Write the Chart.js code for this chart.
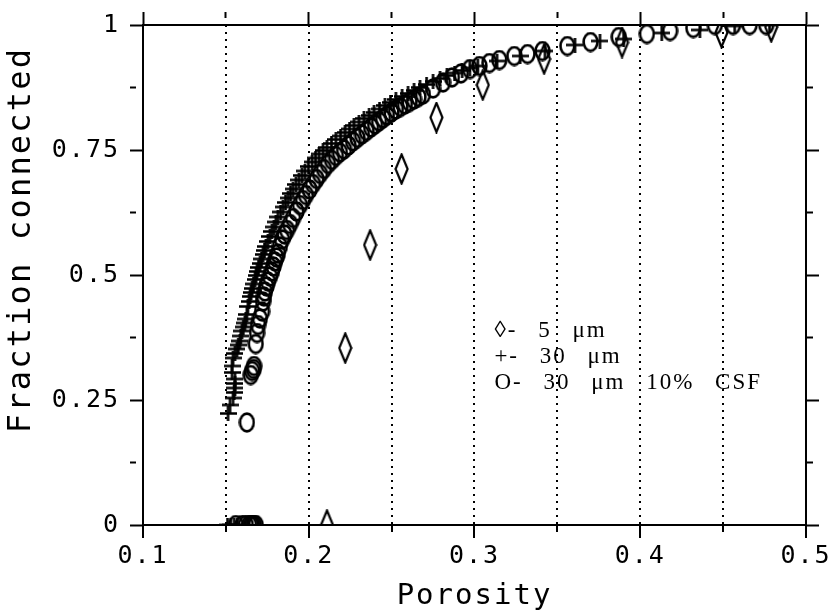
<!DOCTYPE html>
<html><head><meta charset="utf-8">
<script src="https://cdn.jsdelivr.net/npm/chart.js@4.4.0/dist/chart.umd.min.js"></script>
<style>html,body{margin:0;padding:0;background:#fff}</style>
</head><body>
<canvas id="c" width="835" height="611"></canvas>
<script>
// ---------- data ----------
const xTickValues = [0.1, 0.2, 0.3, 0.4, 0.5];
const yTickValues = [0, 0.25, 0.5, 0.75, 1];
const xTitle = 'Porosity';
const yTitle = 'Fraction connected';
const seriesNames = ['5 μm', '30 μm', '30 μm 10% CSF'];
const legendLabels = ['◊- 5 μm', '+- 30 μm', 'O- 30 μm 10% CSF'];

const porosity5um = [0.211, 0.222, 0.237, 0.256, 0.277, 0.305, 0.342, 0.389, 0.449, 0.479];
const fraction5um = [0.0, 0.354, 0.56, 0.712, 0.815, 0.88, 0.932, 0.965, 0.985, 0.996];

const porosity30um = [0.151, 0.153, 0.155, 0.157,
  0.1513, 0.1525, 0.1543, 0.1550, 0.1555, 0.1555, 0.1555, 0.1537, 0.1537, 0.1543, 0.1555, 0.1567,
  0.1575, 0.1585, 0.1590, 0.1597, 0.1605, 0.1615, 0.1620, 0.1627, 0.1633, 0.1640, 0.1646, 0.1652,
  0.1658, 0.1667, 0.1676, 0.1682, 0.1688, 0.1697, 0.1706, 0.1715, 0.1724, 0.1733, 0.1742, 0.1754,
  0.1766, 0.1778, 0.1790, 0.1802, 0.1814, 0.1830, 0.1845, 0.1860, 0.1875, 0.1890, 0.1905, 0.1923,
  0.1941, 0.1959, 0.1977, 0.1998, 0.2020, 0.2041, 0.2062, 0.2086, 0.2110, 0.2137, 0.2164, 0.2192,
  0.2219, 0.2246, 0.2273, 0.2303, 0.2333, 0.2364, 0.2394, 0.2427, 0.2460, 0.2493, 0.2526, 0.2563,
  0.2599, 0.2635, 0.2671, 0.2711, 0.2750, 0.2792, 0.2834, 0.2880, 0.2925, 0.2972, 0.3020, 0.3136,
  0.3275, 0.3425, 0.3606, 0.3757, 0.390, 0.413, 0.436, 0.457, 0.478];
const fraction30um = [0, 0, 0, 0,
  0.223, 0.240, 0.254, 0.265, 0.274, 0.283, 0.292, 0.305, 0.318, 0.334, 0.343, 0.352,
  0.360, 0.368, 0.378, 0.388, 0.396, 0.404, 0.412, 0.421, 0.437, 0.447, 0.457, 0.465,
  0.473, 0.482, 0.491, 0.499, 0.507, 0.515, 0.523, 0.532, 0.541, 0.549, 0.557, 0.567,
  0.577, 0.587, 0.596, 0.606, 0.616, 0.626, 0.636, 0.645, 0.654, 0.663, 0.672, 0.681,
  0.690, 0.699, 0.708, 0.717, 0.726, 0.734, 0.742, 0.749, 0.755, 0.763, 0.771, 0.778,
  0.785, 0.792, 0.799, 0.806, 0.813, 0.819, 0.825, 0.832, 0.839, 0.845, 0.851, 0.857,
  0.863, 0.869, 0.875, 0.881, 0.887, 0.893, 0.899, 0.904, 0.909, 0.914, 0.918, 0.928,
  0.938, 0.948, 0.960, 0.968, 0.972, 0.984, 0.990, 0.998, 1.0];

const porosityCSF = [0.156, 0.160, 0.162, 0.164, 0.165, 0.166, 0.167, 0.168,
  0.1627, 0.1650, 0.1658, 0.1668, 0.1670, 0.1680, 0.1688, 0.1694, 0.1705, 0.1718, 0.1724, 0.1730,
  0.1736, 0.1745, 0.1754, 0.1766, 0.1778, 0.1787, 0.1796, 0.1805, 0.1814, 0.1826, 0.1839, 0.1854,
  0.1869, 0.1887, 0.1905, 0.1926, 0.1947, 0.1965, 0.1983, 0.2005, 0.2026, 0.2047, 0.2068, 0.2092,
  0.2116, 0.2140, 0.2164, 0.2188, 0.2213, 0.2240, 0.2267, 0.2294, 0.2321, 0.2349, 0.2376, 0.2400,
  0.2424, 0.2448, 0.2472, 0.2499, 0.2526, 0.2553, 0.2580, 0.2608, 0.2635, 0.2662, 0.2689, 0.2750,
  0.2810, 0.2864, 0.2918, 0.2973, 0.3030, 0.3090, 0.3150, 0.3240, 0.3320, 0.3410, 0.3560, 0.3700,
  0.3870, 0.4040, 0.4180, 0.4320, 0.4450, 0.4560, 0.4660, 0.4760];
const fractionCSF = [0, 0, 0, 0, 0, 0, 0, 0,
  0.205, 0.300, 0.308, 0.312, 0.318, 0.362, 0.384, 0.400, 0.413, 0.427, 0.447, 0.457,
  0.467, 0.477, 0.487, 0.497, 0.507, 0.517, 0.527, 0.535, 0.543, 0.557, 0.571, 0.581,
  0.590, 0.602, 0.614, 0.627, 0.640, 0.650, 0.660, 0.671, 0.682, 0.692, 0.702, 0.712,
  0.722, 0.730, 0.738, 0.745, 0.751, 0.759, 0.767, 0.774, 0.781, 0.788, 0.795, 0.801,
  0.807, 0.813, 0.819, 0.825, 0.831, 0.836, 0.841, 0.846, 0.851, 0.856, 0.861, 0.873,
  0.885, 0.895, 0.903, 0.912, 0.918, 0.924, 0.930, 0.938, 0.942, 0.948, 0.958, 0.966,
  0.976, 0.982, 0.988, 0.994, 1.0, 1.0, 1.0, 1.0];

// ---------- helpers ----------
const toPoints = (xs, ys) => xs.map((x, i) => ({x: x, y: ys[i]}));
function markCanvas(w, h, lw, draw) {
  const c = document.createElement('canvas');
  c.width = w; c.height = h;
  const g = c.getContext('2d');
  g.strokeStyle = '#000'; g.lineWidth = lw;
  draw(g, w, h);
  return c;
}
const diamondMark = markCanvas(15, 32, 2.2, (g, w, h) => {
  g.beginPath(); g.moveTo(w / 2, 1.5); g.lineTo(w - 1.5, h / 2); g.lineTo(w / 2, h - 1.5); g.lineTo(1.5, h / 2); g.closePath(); g.stroke();
});
const ovalMark = markCanvas(17, 21, 2.6, (g, w, h) => {
  g.beginPath(); g.ellipse(w / 2, h / 2, w / 2 - 1.6, h / 2 - 1.6, 0, 0, Math.PI * 2); g.stroke();
});
const plusMark = markCanvas(17, 15, 2.6, (g, w, h) => {
  g.beginPath(); g.moveTo(0, h / 2); g.lineTo(w, h / 2); g.moveTo(w / 2, 0); g.lineTo(w / 2, h); g.stroke();
});

const near = (a, b) => Math.abs(a - b) < 1e-6;
const isIn = (v, arr) => arr.some(t => near(t, v));
const fmt = (v, arr) => { const t = arr.find(a => near(a, v)); return t === undefined ? '' : String(t); };

const tickFont = {family: 'DejaVu Sans Mono', size: 25};
const MAJ = 13;

const spacingPlugin = {
  id: 'spacing',
  beforeDraw(chart) { chart.ctx.letterSpacing = '2px'; }
};
const textPlugin = {
  id: 'texts',
  afterDraw(chart) {
    const {ctx, chartArea: a} = chart;
    ctx.save();
    ctx.fillStyle = '#000';
    // y-axis title
    ctx.letterSpacing = '2.2px';
    ctx.font = '32px "DejaVu Sans Mono"';
    ctx.textAlign = 'center';
    ctx.textBaseline = 'middle';
    ctx.translate(22, a.top + 0.43 * (a.bottom - a.top));
    ctx.rotate(-Math.PI / 2);
    ctx.fillText(yTitle, 0, 0);
    ctx.restore();
    // legend
    ctx.save();
    ctx.letterSpacing = '2px';
    try { ctx.wordSpacing = '13px'; } catch (e) {}
    ctx.fillStyle = '#000';
    ctx.font = '23px "Liberation Serif"';
    ctx.textBaseline = 'middle';
    ctx.textAlign = 'left';
    const x0 = a.left + 0.53 * (a.right - a.left);
    legendLabels.forEach((t, i) => {
      const y = a.top + (0.612 + 0.052 * i) * (a.bottom - a.top);
      ctx.fillText(t, x0, y);
    });
    ctx.restore();
  }
};

new Chart(document.getElementById('c'), {
  type: 'scatter',
  data: {
    datasets: [
      {label: seriesNames[0], data: toPoints(porosity5um, fraction5um), pointStyle: diamondMark, borderColor: '#000', backgroundColor: '#000'},
      {label: seriesNames[1], data: toPoints(porosity30um, fraction30um), pointStyle: plusMark, borderColor: '#000', backgroundColor: '#000'},
      {label: seriesNames[2], data: toPoints(porosityCSF, fractionCSF), pointStyle: ovalMark, borderColor: '#000', backgroundColor: '#000'}
    ]
  },
  options: {
    responsive: false,
    animation: false,
    devicePixelRatio: 1,
    layout: {padding: 0},
    plugins: {legend: {display: false}, tooltip: {enabled: false}},
    scales: {
      x: {
        type: 'linear', position: 'bottom', min: 0.1, max: 0.5,
        afterFit: s => { s.height = 86; },
        ticks: {stepSize: 0.05, autoSkip: false, maxRotation: 0, color: '#000', font: tickFont, padding: 3,
          callback: v => fmt(v, xTickValues)},
        grid: {
          drawOnChartArea: true, lineWidth: 2, tickLength: MAJ, tickWidth: 2, tickColor: '#000',
          color: c => (near(c.tick.value, 0.1) || near(c.tick.value, 0.5)) ? 'rgba(0,0,0,0)' : '#000',
          tickBorderDash: c => isIn(c.tick.value, xTickValues) ? [] : [6, 100]
        },
        border: {display: true, color: '#000', width: 2, dash: [2, 5]},
        title: {display: true, text: xTitle, color: '#000', font: {family: 'DejaVu Sans Mono', size: 29, lineHeight: 1}, padding: {top: 0, bottom: 0}}
      },
      xTop: {
        type: 'linear', position: 'top', min: 0.1, max: 0.5,
        afterFit: s => { s.height = 22; },
        ticks: {stepSize: 0.05, autoSkip: false, display: false},
        grid: {drawOnChartArea: false, tickLength: MAJ, tickWidth: 2, tickColor: '#000', color: '#000',
          tickBorderDash: c => isIn(c.tick.value, xTickValues) ? [] : [6, 100]},
        border: {display: true, color: '#000', width: 2}
      },
      y: {
        type: 'linear', position: 'left', min: 0, max: 1,
        afterFit: s => { s.width = 143; },
        ticks: {stepSize: 0.125, autoSkip: false, color: '#000', font: tickFont, padding: 10,
          callback: v => fmt(v, yTickValues)},
        grid: {drawOnChartArea: false, tickLength: MAJ, tickWidth: 2, tickColor: '#000', color: '#000',
          tickBorderDash: c => isIn(c.tick.value, yTickValues) ? [] : [6, 100]},
        border: {display: true, color: '#000', width: 2},
        title: {display: false, text: yTitle}
      },
      yRight: {
        type: 'linear', position: 'right', min: 0, max: 1,
        afterFit: s => { s.width = 29; },
        ticks: {stepSize: 0.125, autoSkip: false, display: false},
        grid: {drawOnChartArea: false, tickLength: MAJ, tickWidth: 2, tickColor: '#000', color: '#000',
          tickBorderDash: c => isIn(c.tick.value, yTickValues) ? [] : [6, 100]},
        border: {display: true, color: '#000', width: 2}
      }
    }
  },
  plugins: [spacingPlugin, textPlugin]
});
</script>
</body></html>
